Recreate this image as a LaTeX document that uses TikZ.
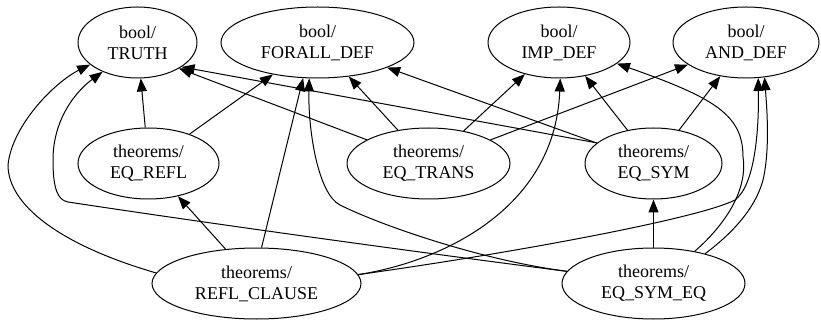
\documentclass[tikz,border=0pt]{standalone}
\usepackage{fontspec}
\setmainfont{Liberation Serif}
\usetikzlibrary{shapes.geometric,arrows.meta}
\tikzset{
  nd/.style={ellipse, draw, line width=1pt, inner sep=0pt, align=center,
    font=\fontsize{18}{21}\selectfont, minimum height=71pt},
  arr/.style={-{Triangle[length=13pt,width=10pt]}, line width=1pt},
}
\begin{document}
\begin{tikzpicture}[x=1pt,y=-1pt]
\useasboundingbox (0,0) rectangle (821,320);
% top row
\node[nd, minimum width=119pt] (truth)  at (137.5,42.5) {bool/\\TRUTH};
\node[nd, minimum width=193pt] (forall) at (317.5,42.5) {bool/\\FORALL\_DEF};
\node[nd, minimum width=142pt] (imp)    at (559,42.5)   {bool/\\IMP\_DEF};
\node[nd, minimum width=146pt] (and)    at (746,42.5)   {bool/\\AND\_DEF};
% middle row
\node[nd, minimum width=141pt] (eqrefl)  at (148.5,163.5) {theorems/\\EQ\_REFL};
\node[nd, minimum width=163pt] (eqtrans) at (428.5,163.5) {theorems/\\EQ\_TRANS};
\node[nd, minimum width=137pt] (eqsym)   at (653.5,163.5) {theorems/\\EQ\_SYM};
% bottom row
\node[nd, minimum width=209pt] (refl)    at (256.5,283.5) {theorems/\\REFL\_CLAUSE};
\node[nd, minimum width=183pt] (eqsymeq) at (653.5,283.5) {theorems/\\EQ\_SYM\_EQ};

% EQ_REFL
\draw[arr] (eqrefl) -- (truth);
\draw[arr] (eqrefl) -- (forall);
% EQ_TRANS
\draw[arr] (eqtrans.159) -- (truth.-32);
\draw[arr] (eqtrans) -- (forall);
\draw[arr] (eqtrans) -- (imp);
\draw[arr] (eqtrans) -- (and);
% EQ_SYM
\draw[arr] (eqsym.160) -- (truth.-29);
\draw[arr] (eqsym) -- (forall);
\draw[arr] (eqsym) -- (imp);
\draw[arr] (eqsym) -- (and);
% REFL_CLAUSE
\draw[arr] (refl) -- (eqrefl);
\draw[arr] (refl.174) .. controls (60,245) and (8,205) .. (8,165)
  .. controls (12,125) and (55,82) .. (truth.205);
\draw[arr] (refl.82) -- (forall.-112);
\draw[arr] (refl.5) .. controls (440,262) and (555,210) .. (imp.-88);
\draw[arr] (refl.5) .. controls (520,252) and (700,218) .. (735,200)
  .. controls (755,185) and (759,130) .. (and.-71);
% EQ_SYM_EQ
\draw[arr] (eqsymeq) -- (eqsym);
\draw[arr] (eqsymeq.172) .. controls (400,250) and (200,222) .. (68,202)
  .. controls (58,200) and (53,190) .. (53,160)
  .. controls (53,120) and (75,92) .. (truth.220);
\draw[arr] (eqsymeq.172) .. controls (480,260) and (380,225) .. (340,205)
  .. controls (318,194) and (308,130) .. (forall.-103);
\draw[arr] (eqsymeq.38) .. controls (725,225) and (748,190) .. (743,157)
  .. controls (743,115) and (715,98) .. (imp.-20);
\draw[arr] (eqsymeq.30) .. controls (730,235) and (755,210) .. (763,180)
  .. controls (770,150) and (767,110) .. (and.-62);
\end{tikzpicture}
\end{document}
